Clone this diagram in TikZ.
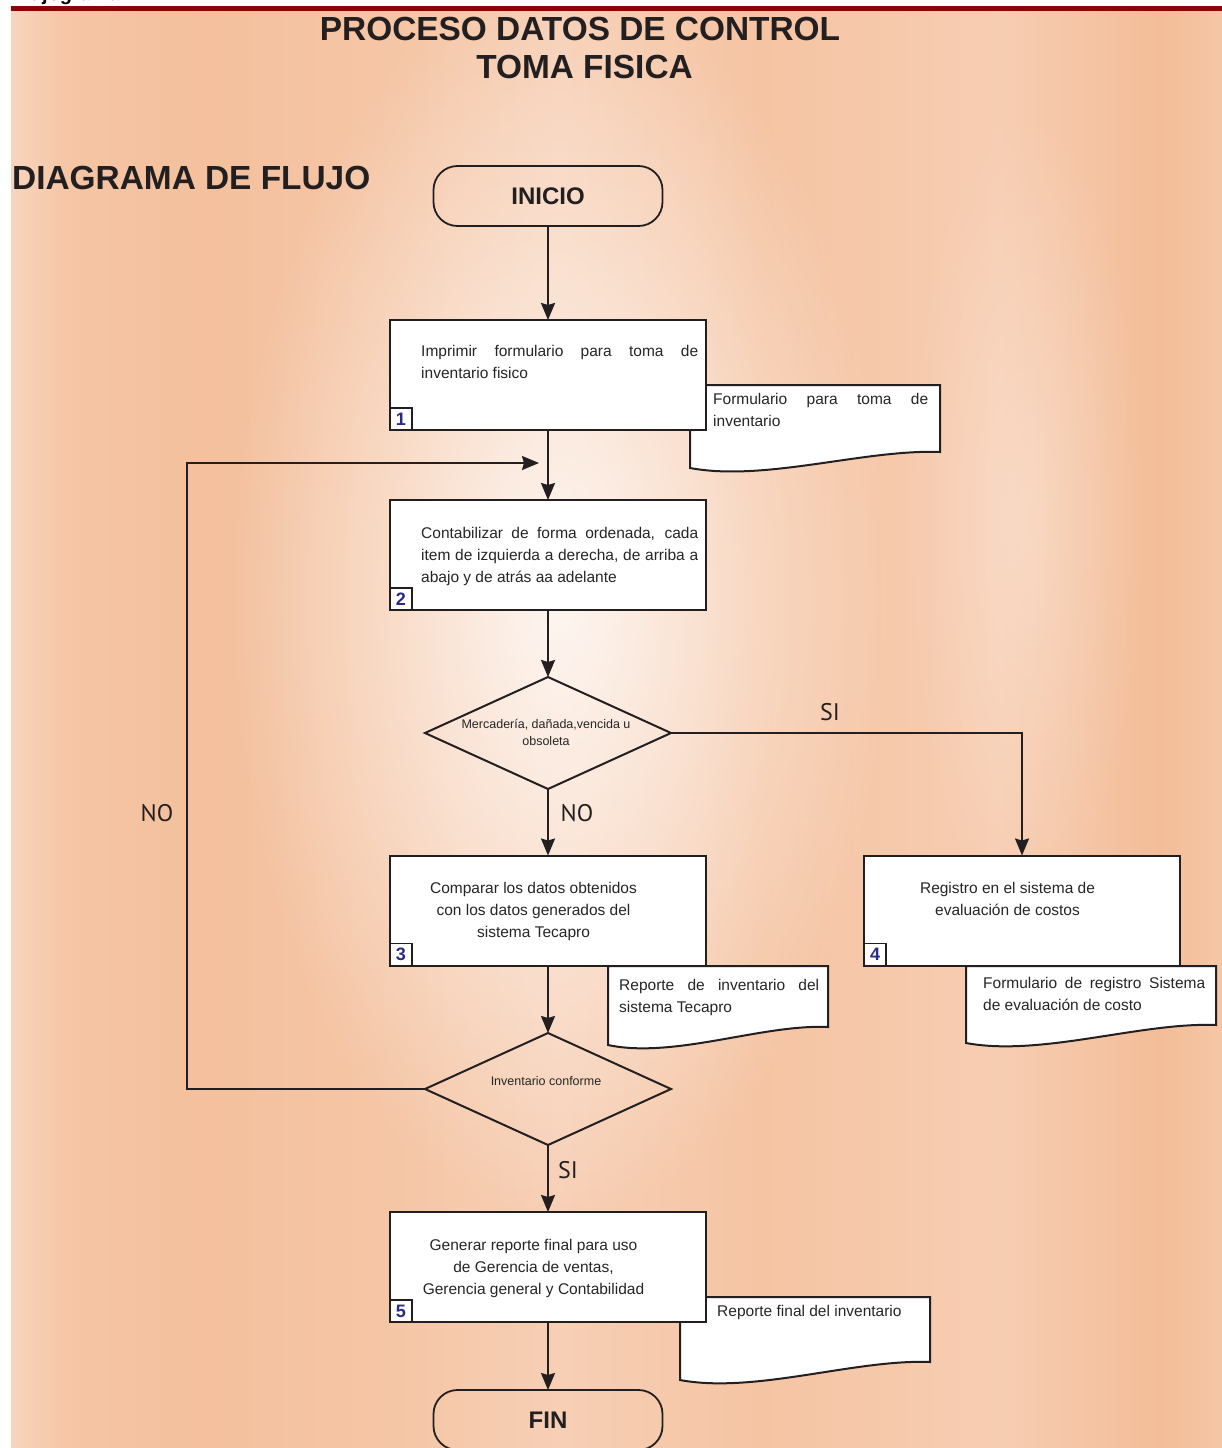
\documentclass[tikz,border=0pt]{standalone}
\usepackage{fontspec}
\setmainfont{Liberation Sans}
\newfontfamily\lblfont{PT Sans}
\usetikzlibrary{arrows.meta,shapes.geometric,fadings}

\definecolor{ink}{HTML}{231F20}
\definecolor{barred}{HTML}{8A0606}
\definecolor{numblue}{HTML}{2A2A84}
\definecolor{txt}{HTML}{262626}
% background band colours, left to right
\definecolor{bgA}{HTML}{F8D4BE}
\definecolor{bgB}{HTML}{F5C5A4}
\definecolor{bgC}{HTML}{F4C09D}
\definecolor{bgD}{HTML}{F5C6A6}
\definecolor{bgE}{HTML}{F7CFB5}
\definecolor{bgF}{HTML}{F5C4A3}
\definecolor{bgG}{HTML}{F7CDB2}
\definecolor{bgH}{HTML}{F3BD98}
\definecolor{bgI}{HTML}{F5C6A6}

\pgfdeclarehorizontalshading{bgband}{100bp}{%
  color(0bp)=(bgA); color(25bp)=(bgA); color(27.44bp)=(bgB);
  color(32.8bp)=(bgC); color(41.06bp)=(bgD); color(47.67bp)=(bgE);
  color(55.92bp)=(bgF); color(65.83bp)=(bgG); color(72.44bp)=(bgH);
  color(75bp)=(bgI); color(100bp)=(bgI)}
\tikzfading[name=glowfade, inner color=transparent!10, outer color=transparent!100]

% document symbol: left, top, right, bottom at right edge, bottom at left edge
\newcommand\flowdoc[5]{%
  \filldraw[docshape] (#1,#2) -- (#3,#2) -- (#3,#4)
    .. controls ({#3-0.3*(#3-#1)},#4-3) and ({#1+0.3*(#3-#1)},#5+14) .. (#1,#5)
    -- cycle;}

\tikzset{
  flow/.style={draw=ink, line width=2pt, -{Stealth[length=17pt, width=14pt, inset=2pt]}},
  term/.style={draw=ink, line width=1.8pt, rounded corners=24pt, minimum width=229pt,
    minimum height=60pt, inner sep=0pt, outer sep=0pt,
    font=\fontsize{24}{28}\selectfont\bfseries, text=ink},
  proc/.style={draw=ink, fill=white, line width=2pt, minimum width=316pt,
    minimum height=110pt, inner sep=0pt, outer sep=0pt},
  numbox/.style={draw=ink, fill=white, line width=1.6pt, minimum size=22pt,
    inner sep=0pt, outer sep=0pt, anchor=south west,
    font=\fontsize{18}{18}\selectfont\bfseries, text=numblue},
  decision/.style={draw=ink, diamond, line width=2pt, inner sep=0pt, outer sep=0pt,
    minimum width=246pt, minimum height=112pt},
  body/.style={inner sep=0pt, font=\fontsize{15.5}{22}\selectfont, text=txt},
  small/.style={inner sep=0pt, font=\fontsize{12.5}{17}\selectfont, text=txt, align=center},
  docshape/.style={draw=ink, fill=white, line width=2pt},
  lbl/.style={inner sep=0pt, font=\lblfont\fontsize{24}{24}\selectfont, text=ink},
  heading/.style={inner sep=0pt, font=\fontsize{33.4}{38}\selectfont\bfseries, text=ink}
}

\begin{document}
\begin{tikzpicture}[x=1pt, y=-1pt]
\useasboundingbox (0,0) rectangle (1222,1448);

% page and coloured panel
\fill[white] (0,0) rectangle (1222,1448);
\shade[shading=bgband] (11,10.5) rectangle (1222,1448);
\fill[white, path fading=glowfade, fill opacity=0.9] (560,600) ellipse [x radius=330pt, y radius=620pt];
\fill[white, path fading=glowfade, fill opacity=0.3] (1025,520) ellipse [x radius=120pt, y radius=420pt];
\fill[barred] (11,6) rectangle (1222,10.5);
\node[inner sep=0pt, anchor=base west, font=\fontsize{20}{20}\selectfont\bfseries] (top) at (12,1) {Flujograma};

% headings
\node[heading, anchor=base] (title1) at (580,40) {PROCESO DATOS DE CONTROL};
\node[heading, anchor=base] (title2) at (584.5,78) {TOMA FISICA};
\node[heading, anchor=base west] (sub) at (12,189) {DIAGRAMA DE FLUJO};

% documents (drawn first, the process boxes overlap them)
\flowdoc{690}{385}{940}{452}{468}
\flowdoc{608}{966}{828}{1027}{1045}
\flowdoc{966}{966}{1216}{1025}{1043}
\flowdoc{680}{1297}{930}{1362}{1380}

% terminals, process boxes and decisions
\node[term] (ini) at (548,196) {INICIO};
\node[proc] (b1) at (548,375) {};
\node[proc] (b2) at (548,555) {};
\node[decision] (d1) at (548,733) {};
\node[proc] (b3) at (548,910.5) {};
\node[proc] (b4) at (1022,910.5) {};
\node[decision] (d2) at (548,1089) {};
\node[proc] (b5) at (548,1267) {};
\node[term] (fin) at (548,1420) {FIN};

% step numbers
\node[numbox] (n1) at (b1.south west) {1};
\node[numbox] (n2) at (b2.south west) {2};
\node[numbox] (n3) at (b3.south west) {3};
\node[numbox] (n4) at (b4.south west) {4};
\node[numbox] (n5) at (b5.south west) {5};

% box texts
\node[body, text width=277pt, align=justify, anchor=north west] (t1) at (421,344.7)
  {Imprimir formulario para toma de\linebreak inventario fisico};
\node[body, text width=277pt, align=justify, anchor=north west] (t2) at (421,526.7)
  {Contabilizar de forma ordenada, cada\linebreak item de izquierda a derecha, de arriba a\linebreak abajo y de atrás aa adelante};
\node[body, align=center, anchor=north] (t3) at (533.5,881.7)
  {Comparar los datos obtenidos\\con los datos generados del\\sistema Tecapro};
\node[body, align=center, anchor=north] (t4) at (1007.5,881.7)
  {Registro en el sistema de\\evaluación de costos};
\node[body, align=center, anchor=north] (t5) at (533.5,1238.7)
  {Generar reporte final para uso\\de Gerencia de ventas,\\Gerencia general y Contabilidad};

% document texts
\node[body, text width=215pt, align=justify, anchor=north west] (dt1) at (713,392.7)
  {Formulario para toma de\linebreak inventario};
\node[body, text width=200pt, align=justify, anchor=north west] (dt3) at (619,978.7)
  {Reporte de inventario del\linebreak sistema Tecapro};
\node[body, text width=222pt, align=justify, anchor=north west] (dt4) at (983,976.7)
  {Formulario de registro Sistema\linebreak de evaluación de costo};
\node[body, anchor=north west] (dt5) at (717,1304.7) {Reporte final del inventario};

% decision texts
\node[small, anchor=north] (q1) at (546,719.5) {Mercadería, dañada,vencida u\\obsoleta};
\node[small, anchor=north] (q2) at (546,1076.5) {Inventario conforme};

% connectors
\coordinate (loopx) at (187,463);
\coordinate (loopend) at (539,463);
\draw[flow] (ini.south) -- (b1.north);
\draw[flow] (b1.south) -- (b2.north);
\draw[flow] (b2.south) -- (d1.north);
\draw[flow] (d1.south) -- (b3.north);
\draw[flow] (d1.east) -| (b4.north);
\draw[flow] (b3.south) -- (d2.north);
\draw[flow] (d2.south) -- (b5.north);
\draw[flow] (b5.south) -- (fin.north);
\draw[flow] (d2.west) -- (d2.west -| loopx) |- (loopend);

% branch labels
\node[lbl] (si1) at (830,712) {SI};
\node[lbl] (no1) at (577,813) {NO};
\node[lbl] (no2) at (157,813) {NO};
\node[lbl] (si2) at (568,1170) {SI};
\end{tikzpicture}
\end{document}
